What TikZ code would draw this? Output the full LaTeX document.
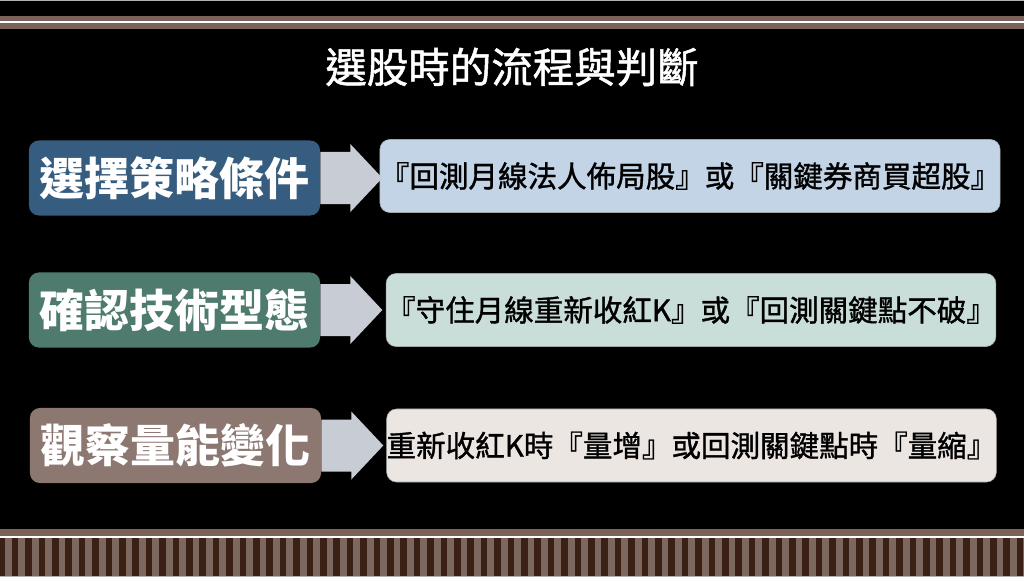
\documentclass[tikz,border=0pt]{standalone}
\usepackage{fontspec}
\setmainfont{Noto Sans CJK TC}
\newfontfamily\cjkmid[FakeBold=1.2]{Noto Sans CJK TC}
\usepackage{tikz}
\usetikzlibrary{positioning, calc}
\definecolor{bandBr}{HTML}{7A625A}
\definecolor{stripeD}{HTML}{3B2016}
\definecolor{stripeL}{HTML}{7D6860}
\definecolor{stepA}{HTML}{365D7F}
\definecolor{stepB}{HTML}{4F7B6F}
\definecolor{stepC}{HTML}{8C7771}
\definecolor{noteA}{HTML}{C2D4E6}
\definecolor{noteB}{HTML}{C9DDD9}
\definecolor{noteC}{HTML}{ECE6E3}
\definecolor{arrowG}{HTML}{C8CCD4}
\tikzset{
  stepbox/.style={rounded corners=7pt, minimum width=7.275cm, minimum height=1.875cm,
    text=white, font=\fontsize{32}{36}\selectfont\bfseries, inner sep=0pt},
  notebox/.style={rounded corners=7pt, minimum width=15.2cm, minimum height=1.825cm,
    draw=gray!70, line width=0.4pt, text=black,
    font=\cjkmid\fontsize{21}{24}\selectfont, inner sep=0pt},
  blockarrow/.style={fill=arrowG}
}
\newcommand{\blockarr}[1]{%
  \fill[blockarrow] ($(#1.east)+(0,-26)$) -- ++(30,0) -- ++(0,-8) -- ++(32,34)
    -- ++(-32,34) -- ++(0,-8) -- ++(-30,0) -- cycle;}

\begin{document}
\begin{tikzpicture}[x=0.025cm, y=-0.025cm]
\useasboundingbox (0,0) rectangle (1024,577);
\fill[black] (0,0) rectangle (1024,577);
\fill[gray!60] (0,0) rectangle (1024,1.5);
% top band
\fill[bandBr] (0,16) rectangle (1024,29);
\fill[white] (0,21) rectangle (1024,23);
% bottom band
\fill[bandBr] (0,529) rectangle (1024,538);
\fill[white] (0,536) rectangle (1024,537.6);
\fill[stripeL] (0,537.6) rectangle (1024,577);
\foreach \i in {0,...,76}
  \fill[stripeD] ({-1.7+13.4*\i},537.6) rectangle ++(6.6,39.4);
\fill[gray!60] (0,575.5) rectangle (1024,577);

\node[text=white, font=\cjkmid\fontsize{29.5}{34}\selectfont] (title) at (512,67) {選股時的流程與判斷};

\node[stepbox, fill=stepA] (s1) at (174.5,178) {選擇策略條件};
\node[stepbox, fill=stepB] (s2) at (174.5,310) {確認技術型態};
\node[stepbox, fill=stepC] (s3) at (175.5,445.5) {觀察量能變化};

\node[notebox, fill=noteA] (n1) at (690,176) {『回測月線法人佈局股』或『關鍵券商買超股』};
\node[notebox, fill=noteB] (n2) at (691,310) {『守住月線重新收紅K』或『回測關鍵點不破』};
\node[notebox, fill=noteC] (n3) at (691.5,445.5) {重新收紅K時『量增』或回測關鍵點時『量縮』};

\blockarr{s1}
\blockarr{s2}
\blockarr{s3}
\end{tikzpicture}
\end{document}
